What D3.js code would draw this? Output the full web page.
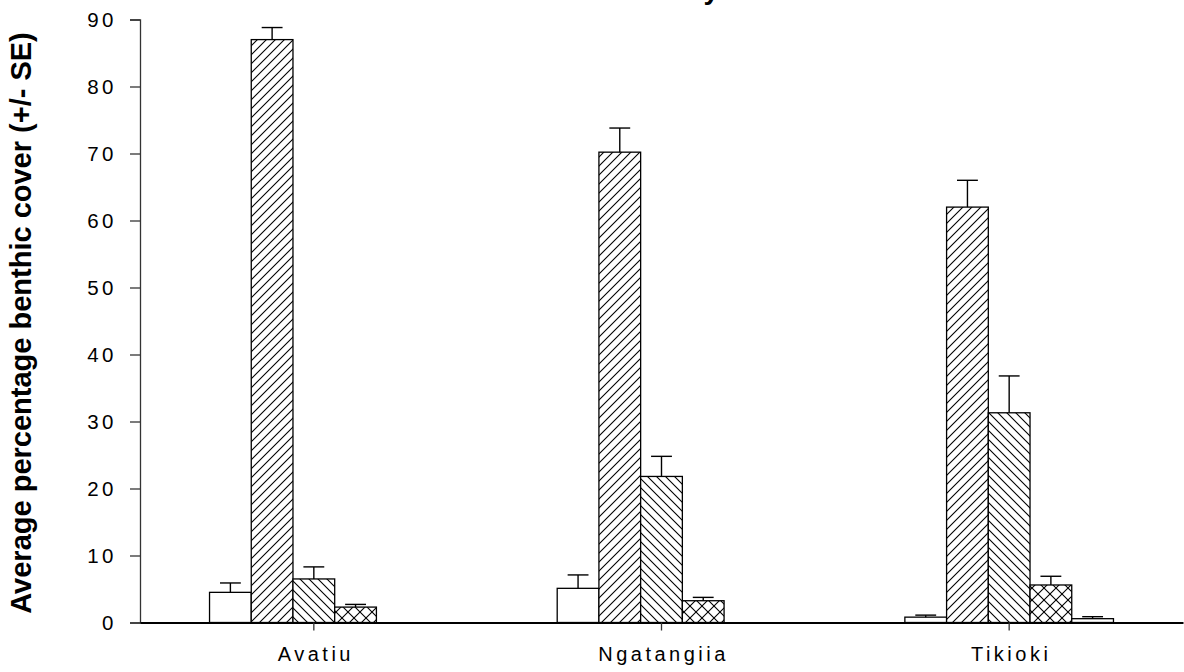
<!DOCTYPE html>
<html><head><meta charset="utf-8">
<script src="https://cdn.jsdelivr.net/npm/d3@7"></script>
<style>body{margin:0;background:#fff}svg{display:block}</style>
</head><body>
<svg id="c" width="1184" height="672"></svg>
<script>
const sites = ["Avatiu", "Ngatangiia", "Tikioki"];
const categories = ["Category A", "Category B", "Category C", "Category D", "Category E"];
const meanA = [4.5, 5.1, 0.8];
const meanB = [87.0, 70.2, 62.0];
const meanC = [6.5, 21.8, 31.3];
const meanD = [2.3, 3.25, 5.6];
const meanE = [0, 0, 0.57];
const seA = [1.4, 2.0, 0.3];
const seB = [1.8, 3.6, 4.0];
const seC = [1.8, 3.0, 5.5];
const seD = [0.4, 0.5, 1.3];
const seE = [0, 0, 0.3];
const yTicks = [0, 10, 20, 30, 40, 50, 60, 70, 80, 90];
const yLabel = "Average percentage benthic cover (+/- SE)";
const titleText = "Benthic community";

const means = [meanA, meanB, meanC, meanD, meanE];
const ses = [seA, seB, seC, seD, seE];
const fills = ["#fff", "url(#hatchF)", "url(#hatchB)", "url(#cross)", "#fff"];

const svg = d3.select("#c");
const mLeft = 140, mRight = 1183, mTop = 19.5, mBottom = 622.5;

const defs = svg.append("defs");
function hatch(id, dirs, size) {
  const p = defs.append("pattern").attr("id", id).attr("patternUnits", "userSpaceOnUse")
    .attr("width", size).attr("height", size);
  p.append("rect").attr("width", size).attr("height", size).attr("fill", "#fff");
  dirs.forEach(a => {
    const d = a === 1
      ? `M0,${size} L${size},0 M${-size/2},${size/2} L${size/2},${-size/2} M${size/2},${size*1.5} L${size*1.5},${size/2}`
      : `M0,0 L${size},${size} M${-size/2},${size/2} L${size/2},${size*1.5} M${size/2},${-size/2} L${size*1.5},${size/2}`;
    p.append("path").attr("d", d).attr("stroke", "#000").attr("stroke-width", 1.1).attr("fill", "none");
  });
}
hatch("hatchF", [1], 9);
hatch("hatchB", [-1], 9);
hatch("cross", [1, -1], 12);

const x0 = d3.scaleBand().domain(sites).range([mLeft, mRight]).paddingInner(0.4).paddingOuter(0.2);
const x1 = d3.scaleBand().domain(categories).range([0, x0.bandwidth()]);
const y = d3.scaleLinear().domain([0, 90]).range([mBottom, mTop]);

// title (cut off at top edge, as in the reference)
svg.append("text").attr("x", 719).attr("y", -1).attr("text-anchor", "end")
  .attr("font-family", "Liberation Sans, Arial, sans-serif").attr("font-weight", "bold")
  .attr("font-size", 28).text(titleText);

// bars
const rows = [];
categories.forEach((c, ci) => sites.forEach((s, si) => rows.push({c, ci, s, v: means[ci][si], e: ses[ci][si]})));
const bars = rows.filter(d => d.v > 0);
const g = svg.append("g");
g.selectAll("rect.bar").data(bars).join("rect").attr("class", "bar")
  .attr("x", d => x0(d.s) + x1(d.c))
  .attr("y", d => y(d.v))
  .attr("width", x1.bandwidth())
  .attr("height", d => y(0) - y(d.v))
  .attr("fill", d => fills[d.ci])
  .attr("stroke", "#000").attr("stroke-width", 1.3);

// error bars (upper only)
const eg = svg.append("g").attr("stroke", "#000").attr("stroke-width", 1.4);
bars.forEach(d => {
  const cx = x0(d.s) + x1(d.c) + x1.bandwidth() / 2;
  const hw = x1.bandwidth() / 4;
  eg.append("line").attr("x1", cx).attr("x2", cx).attr("y1", y(d.v)).attr("y2", y(d.v + d.e));
  eg.append("line").attr("x1", cx - hw).attr("x2", cx + hw).attr("y1", y(d.v + d.e)).attr("y2", y(d.v + d.e));
});

// y axis
const yAxis = d3.axisLeft(y).tickValues(yTicks).tickSize(10).tickPadding(13);
const ya = svg.append("g").attr("transform", `translate(${mLeft},0)`).call(yAxis);
ya.select(".domain").attr("stroke", "#333").attr("stroke-width", 1.3);
ya.selectAll(".tick line").attr("stroke", "#333").attr("stroke-width", 1.3);
ya.selectAll(".tick text").attr("font-family", "Liberation Sans, Arial, sans-serif")
  .attr("font-size", 20.5).attr("letter-spacing", "3.5px").attr("fill", "#000").attr("dy", "0.35em");

// x axis
const xAxis = d3.axisBottom(x0).tickSize(8).tickPadding(16).tickSizeOuter(0);
const xa = svg.append("g").attr("transform", `translate(0,${mBottom})`).call(xAxis);
xa.select(".domain").attr("stroke", "#000").attr("stroke-width", 2);
xa.selectAll(".tick line").attr("stroke", "#333").attr("stroke-width", 1.3);
xa.selectAll(".tick text").attr("font-family", "Liberation Sans, Arial, sans-serif")
  .attr("font-size", 20).attr("letter-spacing", "3.5px").attr("fill", "#000").attr("dx", "2px");

// y label
svg.append("text").attr("transform", `translate(31,${(mTop + mBottom) / 2 + 2}) rotate(-90)`)
  .attr("text-anchor", "middle").attr("font-family", "Liberation Sans, Arial, sans-serif")
  .attr("font-weight", "bold").attr("font-size", 29).text(yLabel);
</script>
</body></html>
